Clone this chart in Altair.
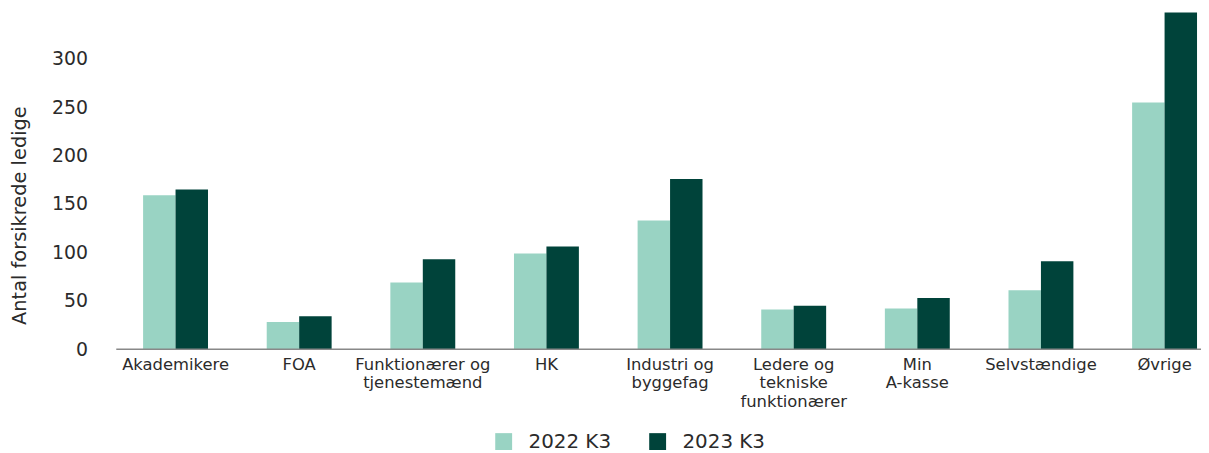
import altair as alt
import pandas as pd

categories = ["Akademikere", "FOA", "Funktionærer og|tjenestemænd", "HK",
              "Industri og|byggefag", "Ledere og|tekniske|funktionærer",
              "Min|A-kasse", "Selvstændige", "Øvrige"]
series = ["2022 K3", "2023 K3"]
v2022 = [159, 28, 69, 99, 133, 41, 42, 61, 255]
v2023 = [165, 34, 93, 106, 176, 45, 53, 91, 348]
y_ticks = [0, 50, 100, 150, 200, 250, 300]
colors = ["#99D3C3", "#00433A"]

rows = []
for c, a, b in zip(categories, v2022, v2023):
    rows.append({"kat": c, "serie": series[0], "val": a})
    rows.append({"kat": c, "serie": series[1], "val": b})
df = pd.DataFrame(rows)

FONT = "DejaVu Sans"
W, H = 1092, 341

bars = alt.Chart(df).mark_bar().encode(
    x=alt.X("kat:N", sort=categories,
            scale=alt.Scale(range=[27, 1088], paddingInner=0.475, paddingOuter=0,
                            round=False),
            axis=alt.Axis(title=None, labelAngle=0, domain=False, ticks=False, tickSize=0,
                          labelPadding=7, labelFontSize=16.5, labelColor="#2b2b2b",
                          labelFont=FONT, labelLineHeight=19, labelBaseline="top",
                          labelExpr="split(datum.label, '|')")),
    xOffset=alt.XOffset("serie:N", sort=series,
                        scale=alt.Scale(paddingInner=0, paddingOuter=0, round=False)),
    y=alt.Y("val:Q", scale=alt.Scale(domain=[0, 350], nice=False),
            axis=alt.Axis(title="Antal forsikrede ledige", values=y_ticks, grid=False,
                          domain=False, ticks=False, tickSize=0, labelPadding=29,
                          labelFontSize=19, labelColor="#2b2b2b", labelFont=FONT,
                          titleFont=FONT, titleFontSize=19.5, titleFontWeight="normal",
                          titleColor="#2b2b2b", titleAngle=-90, titleX=-97, titleY=206,
                          titleAlign="center", titleBaseline="middle")),
    color=alt.Color("serie:N", sort=series,
                    scale=alt.Scale(domain=series, range=colors),
                    legend=alt.Legend(title=None, orient="none", direction="horizontal",
                                      legendX=380, legendY=424, symbolType="square",
                                      symbolSize=289, symbolStrokeWidth=0,
                                      labelFontSize=20, labelFont=FONT,
                                      labelColor="#2b2b2b", labelOffset=15,
                                      columnPadding=36, padding=0)),
)

axis_line = alt.Chart(pd.DataFrame({"z": [0]})).mark_rule(color="#888888", strokeWidth=1.5).encode(
    y=alt.datum(0), x=alt.value(0), x2=alt.value(W)
)

chart = alt.layer(bars, axis_line).properties(
    width=W, height=H,
    autosize=alt.AutoSizeParams(type="none"),
    padding={"left": 109, "top": 1, "right": 0, "bottom": 104},
).configure_view(stroke=None)

chart.save("out.html", embed_options={"renderer": "svg", "actions": False})
